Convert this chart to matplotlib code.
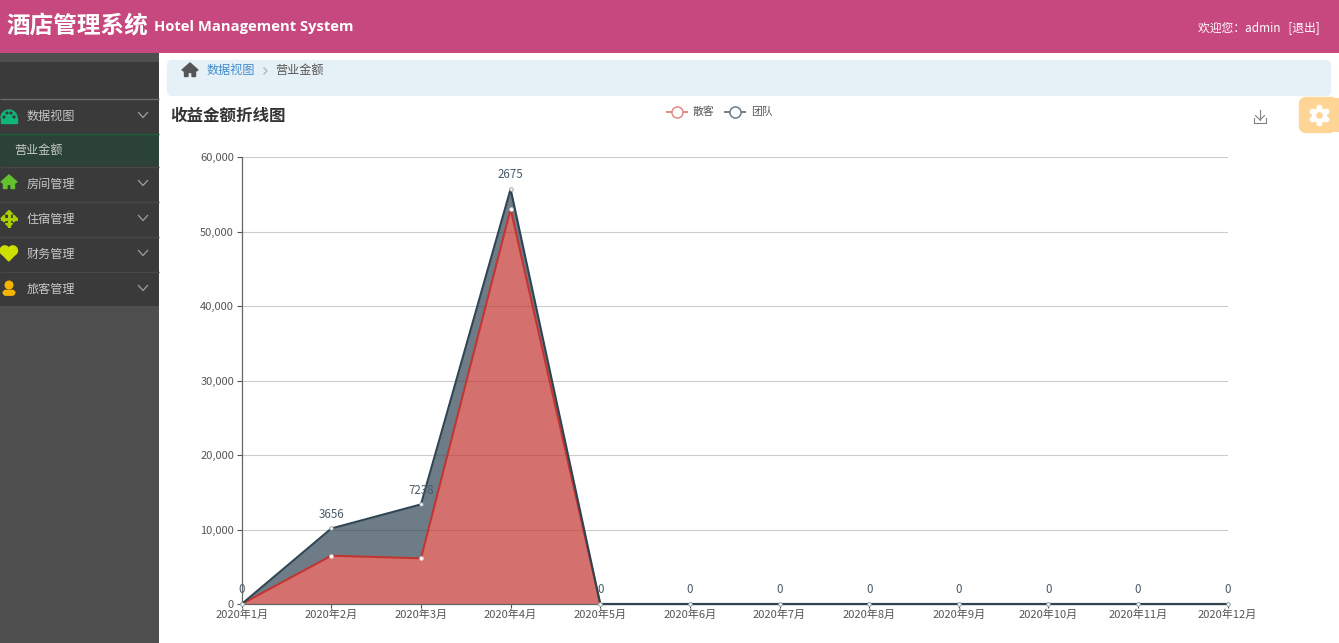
import matplotlib
matplotlib.use('Agg')
import matplotlib.pyplot as plt
from matplotlib.patches import Rectangle, FancyBboxPatch, Circle, Polygon, Wedge

plt.rcParams['font.family'] = ['Noto Sans CJK SC', 'DejaVu Sans']

W, H = 1339, 643

months = ['2020年%d月' % m for m in range(1, 13)]
walkin = [0, 6480, 6130, 53020, 0, 0, 0, 0, 0, 0, 0, 0]
team = [0, 3656, 7238, 2675, 0, 0, 0, 0, 0, 0, 0, 0]
yticks = [0, 10000, 20000, 30000, 40000, 50000, 60000]
menu_items = ['房间管理', '住宿管理', '财务管理', '旅客管理']
menu_rows = [184, 219, 254, 289]

RED = '#c23531'
NAVY = '#2f4554'
PINK = '#c7487e'

fig = plt.figure(figsize=(W / 100, H / 100), dpi=100, facecolor='white')

# ── page chrome, drawn in pixel coordinates ───────────────────────────────────
bg = fig.add_axes([0, 0, 1, 1])
bg.set_xlim(0, W)
bg.set_ylim(H, 0)
bg.axis('off')

def box(x, y, w, h, color, z=1):
    bg.add_patch(Rectangle((x, y), w, h, facecolor=color, edgecolor='none', zorder=z))

def hline(y, color, x0=0, x1=159):
    bg.plot([x0, x1], [y, y], color=color, lw=1, zorder=3, solid_capstyle='butt')

def chevron(x, y):
    bg.plot([x - 4.5, x, x + 4.5], [y - 2.5, y + 2.5, y - 2.5], color='#a0a0a0', lw=0.9, zorder=4)

def home(x, y, color, s=1.0):
    bg.add_patch(Polygon([(x - 8 * s, y), (x, y - 7 * s), (x + 8 * s, y), (x + 6 * s, y + 1 * s),
                          (x, y - 4 * s), (x - 6 * s, y + 1 * s)], color=color, zorder=4))
    bg.add_patch(Polygon([(x - 5.5 * s, y + 1 * s), (x, y - 3 * s), (x + 5.5 * s, y + 1 * s),
                          (x + 5.5 * s, y + 6.5 * s), (x + 2 * s, y + 6.5 * s), (x + 2 * s, y + 2.5 * s),
                          (x - 2 * s, y + 2.5 * s), (x - 2 * s, y + 6.5 * s), (x - 5.5 * s, y + 6.5 * s)],
                         color=color, zorder=4))

box(0, 0, W, 53, PINK)
box(0, 53, 159, 590, '#4e4e4e')
box(0, 62, 159, 244, '#3a3a3a')
box(0, 134, 159, 32, '#2b4236', 2)
hline(98.5, '#6a6a6a')
hline(133.5, '#1f5c3a')
for y in [166.5, 201.5, 236.5, 271.5]:
    hline(y, '#474747')

bg.add_patch(FancyBboxPatch((169, 62), 1160, 32, boxstyle='round,pad=0,rounding_size=3',
                            mutation_aspect=1, facecolor='#e6f1f7', edgecolor='#e6f1f7', lw=3, zorder=1))
bg.add_patch(FancyBboxPatch((1303, 101), 40, 28, boxstyle='round,pad=0,rounding_size=3',
                            facecolor='#ffd596', edgecolor='#ffd596', lw=6, zorder=1))
box(1334, 53, 5, 45, 'white', 2)
box(1332, 132, 7, 511, 'white', 2)

bg.text(6, 26, '酒店管理系统', color='white', fontsize=17, fontweight='bold', va='center', ha='left')
bg.text(154, 26.5, 'Hotel Management System', color='white', fontsize=10.6, fontweight='bold',
        family='Open Sans', va='center', ha='left')
bg.text(1320, 27.5, '欢迎您：admin   [退出]', color='white', fontsize=8.5, va='center', ha='right')

# breadcrumb
home(190, 70, '#555555')
bg.text(207, 70, '数据视图', color='#428bca', fontsize=8.7, va='center', ha='left')
bg.plot([264, 267, 264], [68, 71, 74], color='#b5b5b5', lw=1, zorder=4)
bg.text(275, 70, '营业金额', color='#555555', fontsize=8.7, va='center', ha='left')

bg.text(170, 116, '收益金额折线图', color='#333333', fontsize=11.9, fontweight='bold', va='center', ha='left')

# sidebar menu
bg.text(27, 116, '数据视图', color='#c8c8c8', fontsize=8.7, va='center', ha='left')
bg.text(14, 150, '营业金额', color='#c8c8c8', fontsize=8.7, va='center', ha='left')
chevron(143, 115)
for name, y in zip(menu_items, menu_rows):
    bg.text(27, y, name, color='#c8c8c8', fontsize=8.7, va='center', ha='left')
    chevron(143, y - 1)

# gauge icon
bg.add_patch(Wedge((9, 118), 8, 180, 360, color='#0fb678', zorder=4))
bg.add_patch(Rectangle((1, 118), 16, 5, color='#0fb678', zorder=4))
for dx, dy in [(-5, -1), (-2, -5), (2, -5), (5, -1)]:
    bg.add_patch(Circle((9 + dx, 118 + dy), 0.9, color='#3a3a3a', zorder=5))
home(9, 182, '#62c22d', 1.0)
# move icon
bg.plot([2, 16], [218.5, 218.5], color='#a8d000', lw=2.2, zorder=4)
bg.plot([9, 9], [212, 226], color='#a8d000', lw=2.2, zorder=4)
for pts in [[(1, 218.5), (4.5, 215), (4.5, 222)], [(17, 218.5), (13.5, 215), (13.5, 222)],
            [(9, 210.5), (5.5, 214), (12.5, 214)], [(9, 227), (5.5, 223.5), (12.5, 223.5)]]:
    bg.add_patch(Polygon(pts, color='#a8d000', zorder=4))
# heart icon
bg.add_patch(Circle((4.8, 250.5), 4.6, color='#cfe000', zorder=4))
bg.add_patch(Circle((12.8, 250.5), 4.6, color='#cfe000', zorder=4))
bg.add_patch(Polygon([(0.6, 252.5), (17, 252.5), (8.8, 261)], color='#cfe000', zorder=4))
# user icon
bg.add_patch(Circle((9, 285), 3.8, color='#f7b500', zorder=4))
bg.add_patch(FancyBboxPatch((4, 291), 10, 3.5, boxstyle='round,pad=0,rounding_size=2',
                            facecolor='#f7b500', edgecolor='#f7b500', lw=2, zorder=4))

# gear icon
bg.add_patch(Circle((1319.5, 115.5), 7, color='white', zorder=4))
for dx, dy in [(0, -8), (0, 8), (-7, -4), (7, -4), (-7, 4), (7, 4)]:
    bg.add_patch(Circle((1319.5 + dx, 115.5 + dy), 2.2, color='white', zorder=4))
bg.add_patch(Circle((1319.5, 115.5), 2.6, color='#ffd596', zorder=5))

# download icon
bg.plot([1254, 1254, 1266, 1266], [118, 123, 123, 118], color='#808080', lw=0.8, zorder=4)
bg.plot([1260, 1260], [110, 120], color='#808080', lw=0.8, zorder=4)
bg.plot([1255.5, 1260, 1264.5], [115.5, 120, 115.5], color='#808080', lw=0.8, zorder=4)

# ── chart ─────────────────────────────────────────────────────────────────────
ax = fig.add_axes([241.7 / W, (H - 604) / H, 986 / W, 447 / H], facecolor='none', zorder=2)
x = list(range(len(months)))
stacked = [a + b for a, b in zip(walkin, team)]

ax.fill_between(x, walkin, stacked, color=NAVY, alpha=0.7, lw=0, zorder=2)
ax.fill_between(x, 0, walkin, color=RED, alpha=0.7, lw=0, zorder=2)
mk = dict(marker='o', markersize=2.6, markerfacecolor='white', markeredgewidth=0.6, lw=1.5, clip_on=False, zorder=4)
ax.plot(x, walkin, color=RED, markeredgecolor='#dddddd', label='散客', **mk)
ax.plot(x, stacked, color=NAVY, markeredgecolor='#8a97a0', label='团队', **mk)

for xi, total, val in zip(x, stacked, team):
    ax.annotate(str(val), (xi, total), xytext=(0, 5.5), textcoords='offset points', ha='center', va='bottom',
                fontsize=8.3, color='#4a5b68', zorder=5, annotation_clip=False)

ax.set_xlim(0, 11)
ax.set_ylim(0, 60000)
ax.set_xticks(x)
ax.set_xticklabels(months)
ax.set_yticks(yticks)
ax.set_yticklabels([f'{v:,}' for v in yticks])
ax.tick_params(axis='both', labelsize=8, labelcolor='#555555', color='#555555', length=3.6, width=0.8, pad=2)
ax.tick_params(axis='x', pad=1, length=3)
ax.grid(axis='y', color='#cccccc', lw=0.8, zorder=1)
ax.set_axisbelow(True)
for side in ['top', 'right']:
    ax.spines[side].set_visible(False)
for side in ['left', 'bottom']:
    ax.spines[side].set_color('#666666')
    ax.spines[side].set_linewidth(0.9)

# legend
legend_handles = [
    plt.Line2D([], [], color='#e08a88', lw=1.4, marker='o', markersize=8, markerfacecolor='white',
               markeredgecolor='#e08a88', markeredgewidth=1.1),
    plt.Line2D([], [], color='#6d7d88', lw=1.4, marker='o', markersize=8, markerfacecolor='white',
               markeredgecolor='#6d7d88', markeredgewidth=1.1),
]
fig.legend(legend_handles, ['散客', '团队'], loc='center', bbox_to_anchor=(720 / W, 1 - 112 / H), ncols=2,
           frameon=False, fontsize=7.8, labelcolor='#555555', handlelength=1.85, handletextpad=0.5,
           columnspacing=1.0, borderpad=0)

fig.savefig('out.png', dpi=100)
